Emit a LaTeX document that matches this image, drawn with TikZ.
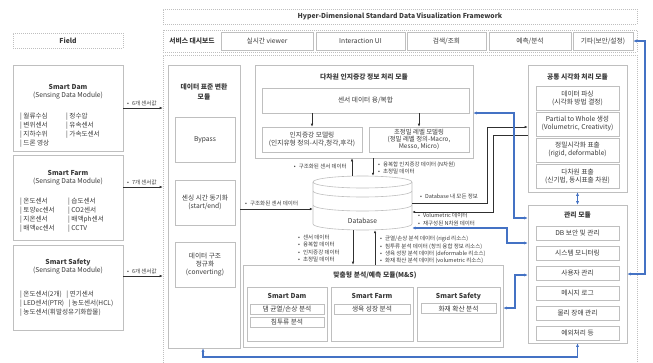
\documentclass[tikz,border=0pt]{standalone}
\usepackage{fontspec}
\setmainfont{Noto Sans CJK KR}
\usetikzlibrary{arrows.meta,calc}
\definecolor{bx}{HTML}{BFBFBF}
\definecolor{tx}{HTML}{3A3A3A}
\definecolor{ln}{HTML}{303030}
\definecolor{bl}{HTML}{4472C4}
\newcommand{\mybul}{•\hspace{3pt}}
\begin{document}
\begin{tikzpicture}[x=1pt,y=-1pt,
 every node/.style={text=tx, inner sep=0pt},
 frame/.style={draw=bx, dash pattern=on 1pt off 1pt, line width=0.6pt},
 box/.style={draw=bx, line width=0.6pt, fill=white},
 itm/.style={font=\fontsize{6.7}{8}\selectfont, align=center},
 sen/.style={font=\fontsize{6.6}{9}\selectfont, anchor=west, align=left},
 ttl/.style={font=\fontsize{6.8}{9.5}\selectfont\bfseries, align=center},
 lbl/.style={font=\fontsize{5.5}{7.3}\selectfont, anchor=west, align=left},
 arr/.style={draw=ln, line width=0.6pt, -{Latex[length=3pt,width=2.6pt]}},
 barr/.style={draw=bl, line width=1.1pt, {Latex[length=3.5pt,width=3.2pt]}-{Latex[length=3.5pt,width=3.2pt]}},
]
\useasboundingbox (0,0) rectangle (653,362);

% frames
\node[frame, ttl, minimum width=474, minimum height=15] (hdr) at (400,16.5) {Hyper-Dimensional Standard Data Visualization Framework};
\node[frame, ttl, minimum width=110, minimum height=15] (field) at (68,40.5) {Field};
\node[frame, minimum width=474, minimum height=22] (dash) at (400,41) {};
\node[frame, minimum width=474, minimum height=317] (fw) at (400,213.5) {};

% dashboard
\node[ttl] (dashT) at (192,41) {서비스 대시보드};
\node[box, itm, minimum width=92, minimum height=18] (viewer) at (267,41) {실시간 viewer};
\node[box, itm, minimum width=89, minimum height=18] (iui) at (360.5,41) {Interaction UI};
\node[box, itm, minimum width=79, minimum height=18] (search) at (446.5,41) {검색/조회};
\node[box, itm, minimum width=82, minimum height=18] (pred) at (530,41) {예측/분석};
\node[box, itm, minimum width=60, minimum height=18] (etc) at (603,41) {기타(보안/설정)};

% field modules
\node[box, minimum width=110, minimum height=86] (sdam) at (68,108) {};
\node[ttl] (sdamT) at (68,87) {Smart Dam};
\node[itm] (sdamS) at (68,96) {(Sensing Data Module)};
\node[sen] (sdamA) at (20,130.5) {| 월류수심\\| 변위센서\\| 지하수위\\| 드론 영상};
\node[sen] (sdamB) at (66,126) {| 정수압\\| 유속센서\\| 가속도센서};

\node[box, minimum width=110, minimum height=85] (sfarm) at (68,197.5) {};
\node[ttl] (sfarmT) at (68,173) {Smart Farm};
\node[itm] (sfarmS) at (68,182) {(Sensing Data Module)};
\node[sen] (sfarmA) at (20,215.5) {| 온도센서\\| 토양ec센서\\| 지온센서\\| 배액ec센서};
\node[sen] (sfarmB) at (68,215.5) {| 습도센서\\| CO2센서\\| 배액ph센서\\| CCTV};

\node[box, minimum width=110, minimum height=85] (ssafe) at (68,287.5) {};
\node[ttl] (ssafeT) at (68,262) {Smart Safety};
\node[itm] (ssafeS) at (68,271) {(Sensing Data Module)};
\node[sen] (ssafeA) at (20,304) {| 온도센서(2개)\hspace{3pt} | 연기센서\\| LED센서(PTR)\hspace{3pt} | 농도센서(HCL)\\| 농도센서(휘발성유기화합물)};

% data standard conversion
\node[box, minimum width=72, minimum height=283] (std) at (204,206.5) {};
\node[ttl] (stdT) at (204,92) {데이터 표준 변환\\모듈};
\node[box, itm, minimum width=60, minimum height=45] (bypass) at (205,139.5) {Bypass};
\node[box, itm, minimum width=60, minimum height=45] (sync) at (205,202.5) {센싱 시간 동기화\\(start/end)};
\node[box, itm, minimum width=60, minimum height=45] (norm) at (205,264.5) {데이터 구조\\정규화\\(converting)};

% multi-dimensional module
\node[box, minimum width=218, minimum height=93] (dim) at (364,111.5) {};
\node[ttl] (dimT) at (364,77) {다차원 인지증강 정보 처리 모듈};
\node[box, itm, minimum width=207, minimum height=25] (fuse) at (365.5,100.5) {센서 데이터 융/복합};
\node[box, itm, minimum width=100, minimum height=25] (cog) at (312,139.5) {인지증강 모델링\\(인지유형 정의-시각,청각,후각)};
\node[box, itm, minimum width=100, minimum height=25, font=\fontsize{6.4}{7.4}\selectfont] (prec) at (419,139.5) {초정밀 레벨 모델링\\(정밀 레벨 정의-Macro,\\Messo, Micro)};
\draw[arr] (cog.north |- fuse.south) -- (cog.north);
\draw[arr] (prec.north |- fuse.south) -- (prec.north);

% database
\node[minimum width=99, minimum height=54] (db) at (362.5,203) {};
\draw[box] (313,182) -- (313,224) arc[start angle=180, end angle=360, x radius=49.5pt, y radius=6pt] -- (412,182);
\draw[box] (362.5,182) ellipse [x radius=49.5pt, y radius=6pt];
\draw[draw=bx, line width=0.6pt] (313,191) arc[start angle=180, end angle=360, x radius=49.5pt, y radius=6pt];
\draw[draw=bx, line width=0.6pt] (313,205) arc[start angle=180, end angle=360, x radius=49.5pt, y radius=6pt];
\node[itm] (dbT) at (362.5,221) {Database};

% common visualization
\node[box, minimum width=99, minimum height=127] (vis) at (577.5,128.5) {};
\node[ttl] (visT) at (577.5,77) {공통 시각화 처리 모듈};
\node[box, itm, minimum width=83, minimum height=24] (parse) at (577.5,98) {데이터 파싱\\(시각화 방법 결정)};
\node[box, itm, minimum width=83, minimum height=24] (ptw) at (577.5,124) {Partial to Whole 생성\\(Volumetric, Creativity)};
\node[box, itm, minimum width=83, minimum height=24] (rigid) at (577.5,150) {정밀시각화 표출\\(rigid, deformable)};
\node[box, itm, minimum width=83, minimum height=24] (multi) at (577.5,176) {다차원 표출\\(신기법, 동시표출 차원)};

% management
\node[box, minimum width=99, minimum height=138] (mgmt) at (577.5,274) {};
\node[ttl] (mgmtT) at (577.5,215) {관리 모듈};
\node[box, itm, minimum width=83, minimum height=14] (m1) at (577.5,233) {DB 보안 및 관리};
\node[box, itm, minimum width=83, minimum height=14] (m2) at (577.5,253) {시스템 모니터링};
\node[box, itm, minimum width=83, minimum height=14] (m3) at (577.5,273) {사용자 관리};
\node[box, itm, minimum width=83, minimum height=14] (m4) at (577.5,293) {메시지 로그};
\node[box, itm, minimum width=83, minimum height=14] (m5) at (577.5,313) {물리 장애 관리};
\node[box, itm, minimum width=83, minimum height=14] (m6) at (577.5,333) {예외처리 등};

% M&S
\node[box, minimum width=260, minimum height=82] (ms) at (373,306) {};
\node[ttl] (msT) at (375,275) {맞춤형 분석/예측 모듈(M\&S)};
\node[box, minimum width=80, minimum height=54] (msdam) at (287,314) {};
\node[ttl] (msdamT) at (287,296) {Smart Dam};
\node[box, itm, minimum width=74, minimum height=10] (crack) at (287,309) {댐 균열/손상 분석};
\node[box, itm, minimum width=74, minimum height=10] (seep) at (287,322) {침투류 분석};
\node[box, minimum width=82, minimum height=54] (msfarm) at (372,314) {};
\node[ttl] (msfarmT) at (372,296) {Smart Farm};
\node[box, itm, minimum width=76, minimum height=10] (grow) at (372,309) {생육 성장 분석};
\node[box, minimum width=83, minimum height=54] (mssafe) at (458.5,314) {};
\node[ttl] (mssafeT) at (458.5,296) {Smart Safety};
\node[box, itm, minimum width=75, minimum height=10] (fire) at (458.5,308.5) {화재 확산 분석};

% field arrows
\draw[arr] (sdam.east |- 0,108) -- (fw.west |- 0,108);
\node[lbl] (l1) at (127,103) {\mybul 6개 센서값};
\draw[arr] (sfarm.east |- 0,187) -- (fw.west |- 0,187);
\node[lbl] (l2) at (127,182) {\mybul 7개 센서값};
\draw[arr] (ssafe.east |- 0,276) -- (fw.west |- 0,276);
\node[lbl] (l3) at (127,271) {\mybul 6개 센서값};

% std -> db
\draw[arr] (std.east |- 0,209) -- (db.west |- 0,209);
\node[lbl] (l4) at (245,203) {\mybul 구조화된 센서 데이터};

% db <-> dim
\draw[arr] (352,0 |- db.north) -- (352,0 |- dim.south);
\node[lbl, anchor=east] (l5) at (347,166) {\mybul 구조화된 센서 데이터};
\draw[arr] (373,0 |- dim.south) -- (373,0 |- db.north);
\node[lbl] (l6) at (378,168) {\mybul 융복합 인지증강 데이터 (N차원)\\\mybul 초정밀 데이터};

% db <-> vis
\draw[arr] (db.east |- 0,203) -- (487,203) -- (487,127) -- (vis.west |- 0,127);
\node[lbl] (l7) at (420,196) {\mybul Database 내 모든 정보};
\draw[arr] (vis.west |- 0,135) -- (493,135) -- (493,212) -- (db.east |- 0,212);
\node[lbl] (l8) at (418,219.5) {\mybul Volumetric 데이터\\\mybul 재구성된 N차원 데이터};

% db <-> ms
\draw[arr] (353,0 |- db.south) -- (353,0 |- ms.north);
\node[lbl] (l9) at (298,248.5) {\mybul 센서 데이터\\\mybul 융복합 데이터\\\mybul 인지증강 데이터\\\mybul 초정밀 데이터};
\draw[arr] (375,0 |- ms.north) -- (375,0 |- db.south);
\node[lbl] (l10) at (380,250) {\mybul 균열/손상 분석 데이터 (rigid 리소스)\\\mybul 침투류 분석 데이터 (창의 융합 정보 리소스)\\\mybul 생육 성장 분석 데이터 (deformable 리소스)\\\mybul 화재 확산 분석 데이터 (volumetric 리소스)};

% blue connectors
\draw[barr] (dim.east |- 0,113) -- (514,113) -- (514,218) -- (mgmt.west |- 0,218);
\draw[barr] (db.east |- 0,228) -- (507,228) -- (507,243) -- (mgmt.west |- 0,243);
\draw[barr] (ms.east |- 0,308) -- (515,308) -- (515,275) -- (mgmt.west |- 0,275);
\draw[barr] (vis.south) -- (mgmt.north);
\draw[barr] (203,0 |- std.south) -- (203,357) -- (mgmt.south |- 0,357) -- (mgmt.south);
\draw[barr] (etc.east) -- (645,41) -- (645,274) -- (mgmt.east);
\end{tikzpicture}
\end{document}
